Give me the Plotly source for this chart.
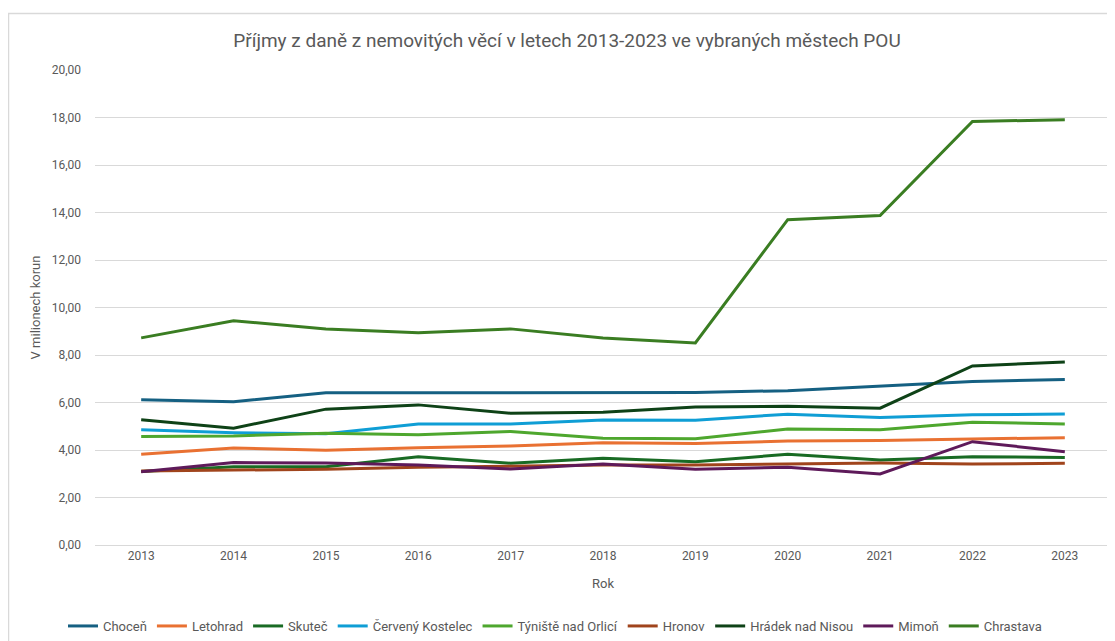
import plotly.graph_objects as go

years = [2013, 2014, 2015, 2016, 2017, 2018, 2019, 2020, 2021, 2022, 2023]

chocen = [6.12, 6.03, 6.41, 6.41, 6.41, 6.42, 6.42, 6.50, 6.70, 6.88, 6.97]
letohrad = [3.82, 4.08, 3.99, 4.10, 4.17, 4.31, 4.27, 4.38, 4.40, 4.47, 4.52]
skutec = [3.09, 3.30, 3.30, 3.72, 3.44, 3.65, 3.51, 3.82, 3.58, 3.72, 3.68]
cerveny_kostelec = [4.85, 4.73, 4.68, 5.09, 5.09, 5.26, 5.25, 5.51, 5.37, 5.48, 5.52]
tyniste = [4.57, 4.59, 4.71, 4.64, 4.78, 4.50, 4.47, 4.88, 4.85, 5.17, 5.10]
hronov = [3.12, 3.16, 3.19, 3.27, 3.33, 3.37, 3.37, 3.40, 3.45, 3.41, 3.44]
hradek = [5.27, 4.92, 5.72, 5.90, 5.55, 5.59, 5.81, 5.84, 5.76, 7.54, 7.71]
mimon = [3.08, 3.47, 3.45, 3.37, 3.20, 3.41, 3.19, 3.27, 2.99, 4.35, 3.93]
chrastava = [8.72, 9.44, 9.10, 8.94, 9.10, 8.72, 8.51, 13.70, 13.87, 17.83, 17.91]

series_names = ["Choceň", "Letohrad", "Skuteč", "Červený Kostelec", "Týniště nad Orlicí",
                "Hronov", "Hrádek nad Nisou", "Mimoň", "Chrastava"]
series_values = [chocen, letohrad, skutec, cerveny_kostelec, tyniste,
                 hronov, hradek, mimon, chrastava]
colors = ["#156082", "#E97132", "#196B24", "#0F9ED5", "#4EA72E",
          "#A0441C", "#0E4217", "#5E1A5A", "#3A7D22"]

FONT = "Roboto"
TXT = "#595959"

fig = go.Figure()
for name, vals, col in zip(series_names, series_values, colors):
    fig.add_trace(go.Scatter(x=years, y=vals, name=name, mode="lines",
                             line=dict(color=col, width=3)))

# page body has an 8px offset; figure coordinates = screen coordinates - 8
OFF = 8
W, H = 1115, 641
ml, mt = 95 - OFF, 70 - OFF
plot_right, plot_bottom = 1111 - OFF, 545 - OFF
mr, mb = W - plot_right, H - plot_bottom
pw, ph = plot_right - ml, plot_bottom - mt

def px_x(p):
    return (p - OFF - ml) / pw

def px_y(p):
    return 1 - (p - OFF - mt) / ph

fig.update_layout(
    width=W, height=H,
    margin=dict(l=ml, r=mr, t=mt, b=mb, autoexpand=False),
    paper_bgcolor="white", plot_bgcolor="white",
    separators=", ",
    font=dict(family=FONT, color=TXT, size=12),
    title=dict(text="Příjmy z daně z nemovitých věcí v letech 2013-2023 ve vybraných městech POU",
               x=(567 - OFF) / W, xref="container", xanchor="center",
               y=1 - (40 - OFF) / H, yref="container", yanchor="middle",
               font=dict(family=FONT, size=19, color=TXT)),
    xaxis=dict(range=[2012.5, 2023.5], tickmode="array", tickvals=years,
               ticktext=[str(y) for y in years], showgrid=False, zeroline=False,
               showline=True, linecolor="#d9d9d9", linewidth=1, ticks="",
               automargin=False,
               tickfont=dict(size=12, color=TXT),
               title=dict(text="Rok", font=dict(size=13, color=TXT), standoff=16)),
    yaxis=dict(range=[0, 20], dtick=2, tickformat=".2f", showgrid=True,
               gridcolor="#d9d9d9", gridwidth=1, zeroline=True, zerolinecolor="#d9d9d9",
               zerolinewidth=1, showline=False, ticks="", automargin=False,
               tickfont=dict(size=12, color=TXT), ticklabelstandoff=13,
               title=dict(text="V milionech korun", font=dict(size=13, color=TXT), standoff=8)),
    legend=dict(orientation="h", x=(555 - OFF) / W, xref="container", xanchor="center",
                y=1 - (626 - OFF) / H, yref="container", yanchor="middle",
                font=dict(size=13, color=TXT), itemwidth=30, tracegroupgap=0,
                bgcolor="rgba(0,0,0,0)"),
    shapes=[dict(type="path", xref="paper", yref="paper",
                 path=f"M {px_x(8.5)} {px_y(700)} L {px_x(8.5)} {px_y(13.5)} L {px_x(1114)} {px_y(13.5)}",
                 line=dict(color="#d9d9d9", width=1.5))],
)

fig.write_html("out.html")
